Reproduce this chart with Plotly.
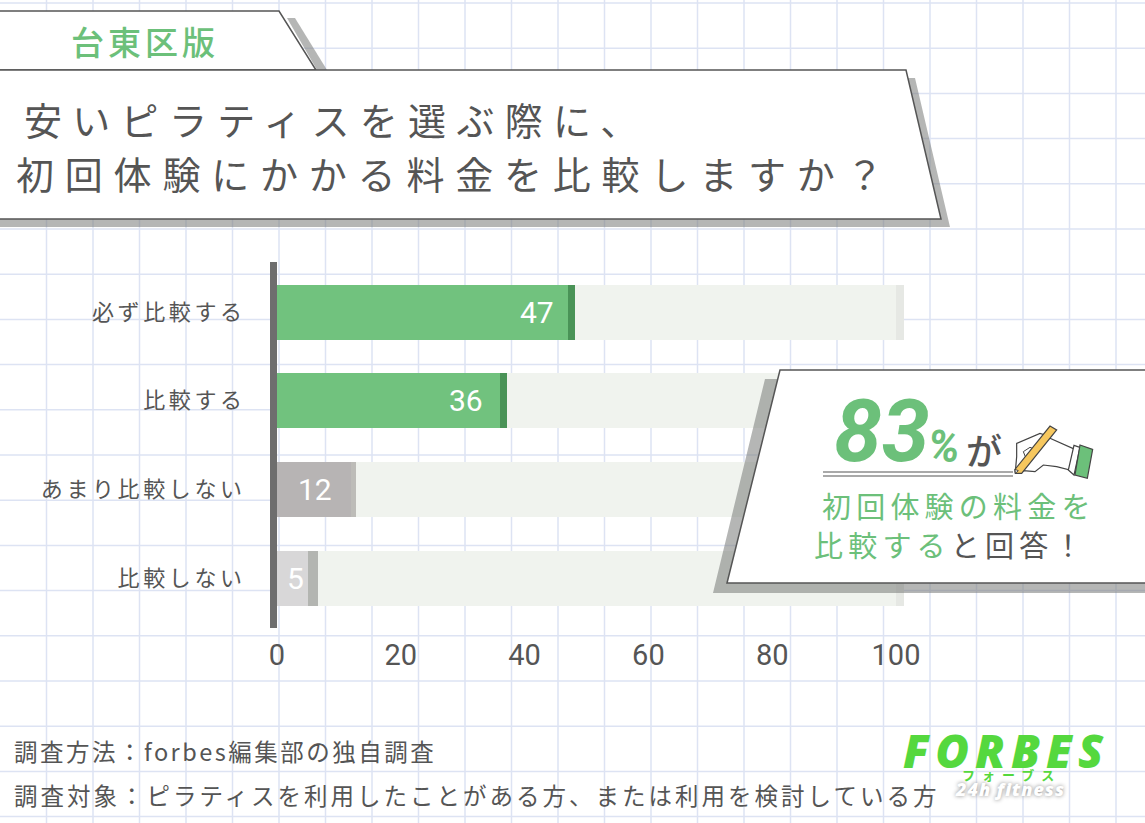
import plotly.graph_objects as go

W, H = 1145, 823

# ---------- data ----------
categories = ["必ず比較する", "比較する", "あまり比較しない", "比較しない"]
values = [47, 36, 12, 5]
cap_widths = [1.13, 1.13, 0.7, 1.7]
track_total = [100, 100, 100, 100]
track_cap = [1.3, 1.3, 1.3, 1.3]
x_ticks = [0, 20, 40, 60, 80, 100]

main_colors = ["#71c27e", "#71c27e", "#b7b4b4", "#d8d7d8"]
cap_colors = ["#4a9357", "#4a9357", "#bdbcb8", "#b3b5b1"]
label_shift = [-31, -34, -36, -12]

title_lines = ["安いピラティスを選ぶ際に、", "初回体験にかかる料金を比較しますか？"]
tab_text = "台東区版"
notes = ["調査方法：forbes編集部の独自調査",
         "調査対象：ピラティスを利用したことがある方、または利用を検討している方"]

# ---------- styling ----------
JP = "Noto Sans CJK JP"
GREEN = "#6cc07a"
DARK = "#555555"
GRID = "#dde3f3"


def px(x):
    return x / W


def py(y):
    return 1 - y / H


def poly(points, fill, line=None, lw=0):
    path = "M " + " L ".join(f"{px(x):.5f},{py(y):.5f}" for x, y in points) + " Z"
    return dict(type="path", path=path, xref="paper", yref="paper", fillcolor=fill,
                line=dict(color=line or "rgba(0,0,0,0)", width=lw), layer="above")


def hline(x0, x1, y, color, lw=1.5, layer="above"):
    return dict(type="line", xref="paper", yref="paper", x0=px(x0), x1=px(x1), y0=py(y), y1=py(y),
                line=dict(color=color, width=lw), layer=layer)


def vline(x, y0, y1, color, lw=1.5, layer="above"):
    return dict(type="line", xref="paper", yref="paper", x0=px(x), x1=px(x), y0=py(y0), y1=py(y1),
                line=dict(color=color, width=lw), layer=layer)


def hand(pts):
    return [(1000 + a / 3, 410 + b / 3) for a, b in pts]


shapes = []
# notebook grid
for k in range(1, 25):
    shapes.append(vline(46.5 * k, 0, H, GRID, 1.5, "below"))
for k in range(0, 19):
    shapes.append(hline(0, W, 3 + 45.2 * k, GRID, 1.5, "below"))

SHADOW = "rgba(120,122,120,0.55)"
# tab and title panel
shapes.append(poly([(287, 18), (295, 18), (327, 70), (317, 70)], SHADOW))
shapes.append(poly([(906, 78), (915, 78), (950, 227), (-5, 227), (-5, 219), (941, 219)], SHADOW))
shapes.append(poly([(-5, 11), (279, 11), (316, 70), (-5, 70)], "#ffffff", "#555555", 1.5))
shapes.append(poly([(-5, 70), (906, 70), (941, 219), (-5, 219)], "#ffffff", "#555555", 1.5))
# callout panel
shapes.append(poly([(765, 379), (780, 379), (727, 583), (1150, 583), (1150, 593), (713, 593)], SHADOW))
shapes.append(poly([(780, 370), (1150, 370), (1150, 583), (727, 583)], "#ffffff", "#555555", 1.5))
shapes.append(hline(823, 1013, 472, "#555555", 1.2))
shapes.append(hline(823, 1013, 476, "#555555", 1.2))
# hand with pencil
shapes.append(poly(hand([(46, 185), (50, 140), (50, 100), (120, 70), (135, 75), (150, 85), (225, 118),
                         (210, 180), (170, 170), (130, 165), (105, 185), (70, 182)]),
                   "#ffffff", "#444444", 1.2))
shapes.append(poly(hand([(70, 125), (90, 112), (105, 118), (80, 150)]), "#ffffff", "#444444", 1))
shapes.append(poly(hand([(222, 106), (240, 112), (222, 195), (205, 180)]), "#ffffff", "#444444", 1.2))
shapes.append(poly(hand([(240, 105), (278, 118), (262, 205), (225, 195)]), "#6cc07a", "#444444", 1.2))
shapes.append(poly(hand([(45, 178), (150, 48), (170, 60), (65, 190), (46, 190)]), "#f6c75e", "#444444", 1.2))
shapes.append(poly(hand([(45, 178), (55, 182), (46, 190)]), "#ffffff", "#444444", 1))

# ---------- text ----------
ann_specs = []


def note(text, x, y, size, color=DARK, spacing=0, weight=400, style="normal", family=JP, shadow="none"):
    ann_specs.append(spacing)
    return dict(text=text, xref="paper", yref="paper", x=px(x), y=py(y), xanchor="left", yanchor="middle",
                showarrow=False, align="left",
                font=dict(family=family, size=size, color=color, weight=weight, style=style, shadow=shadow))


annotations = [
    note(tab_text, 69, 41, 33, GREEN, 4, 500),
    note(title_lines[0], 22, 118, 38, DARK, 10.3),
    note(title_lines[1], 14, 173, 38, DARK, 10.8),
    note("83", 832, 431, 86, GREEN, 0, 700, "italic", "Roboto"),
    note("%", 926, 447, 44, GREEN, 0, 700, "italic", "Roboto"),
    note("が", 964, 449, 36, DARK, 0, 500),
    note("初回体験の料金を", 820, 505, 29, GREEN, 5.2),
    note(f'<span style="color:{GREEN}">比較する</span>と回答！', 812, 544, 29, DARK, 5.2),
    note(notes[0], 12, 751, 23.5, DARK, 2.5),
    note(notes[1], 12, 795, 23.5, DARK, 3),
    note("FORBES", 901, 750, 46, "#55d83e", 6, 800, "italic", "Open Sans"),
    note("フォーブス", 960, 774, 13, "#55d83e", 7, 700),
    note("24h fitness", 953, 789, 18, "#ffffff", 1, 800, "italic", "Open Sans", "0 0 4px #888888"),
]

bar_width = 55 / 88.7
fig = go.Figure()
fig.add_bar(y=categories, x=values, orientation="h", marker=dict(color=main_colors, line_width=0),
            width=bar_width, showlegend=False, hoverinfo="skip")
fig.add_bar(y=categories, x=cap_widths, orientation="h", marker=dict(color=cap_colors, line_width=0),
            width=bar_width, showlegend=False, hoverinfo="skip")
fig.add_bar(y=categories, x=[t - v - c for t, v, c in zip(track_total, values, cap_widths)], orientation="h",
            marker=dict(color="#f0f3ee", line_width=0), width=bar_width, showlegend=False, hoverinfo="skip")
fig.add_bar(y=categories, x=track_cap, orientation="h", marker=dict(color="#e6e8e4", line_width=0),
            width=bar_width, showlegend=False, hoverinfo="skip")

# value labels, placed through the data scale
labels = [dict(text=str(v), x=v, y=c, xref="x", yref="y", xshift=s, showarrow=False, xanchor="center",
               yanchor="middle", font=dict(family="Roboto", size=30, color="#ffffff"))
          for v, c, s in zip(values, categories, label_shift)]

x0_px, px_per_unit, x_max = 277, 6.19, 105
fig.update_layout(
    width=W, height=H, autosize=False, margin=dict(l=0, r=0, t=0, b=0, autoexpand=False),
    paper_bgcolor="#ffffff", plot_bgcolor="rgba(0,0,0,0)", barmode="stack", bargap=0,
    shapes=shapes, annotations=annotations + labels,
    xaxis=dict(domain=[px(x0_px), px(x0_px + px_per_unit * x_max)], range=[0, x_max], tickvals=x_ticks,
               automargin=False, showgrid=False, zeroline=False, showline=False, ticks="outside", ticklen=1,
               tickcolor="rgba(0,0,0,0)", tickfont=dict(family="Roboto", size=29, color=DARK)),
    yaxis=dict(domain=[py(628), py(262)], range=[3.563, -0.564], type="category", automargin=False,
               categoryorder="array", categoryarray=categories, showgrid=False, zeroline=False,
               showline=True, linewidth=7, linecolor="#6e6e6e", ticks="", ticklabelstandoff=20,
               tickfont=dict(family=JP, size=22, color=DARK)),
)

spacings = ann_specs
post = """
document.body.style.margin='0';
document.documentElement.style.overflow='hidden';
var sp=%s;
document.querySelectorAll('.annotation').forEach(function(g){
  var i=+g.getAttribute('data-index');
  if(sp[i]){g.querySelectorAll('text').forEach(function(t){t.style.letterSpacing=sp[i]+'px';});}
});
document.querySelectorAll('.ytick text').forEach(function(t){t.style.letterSpacing='3.6px';});
""" % (spacings,)
fig.write_html("out.html", post_script=post, config=dict(displayModeBar=False))
